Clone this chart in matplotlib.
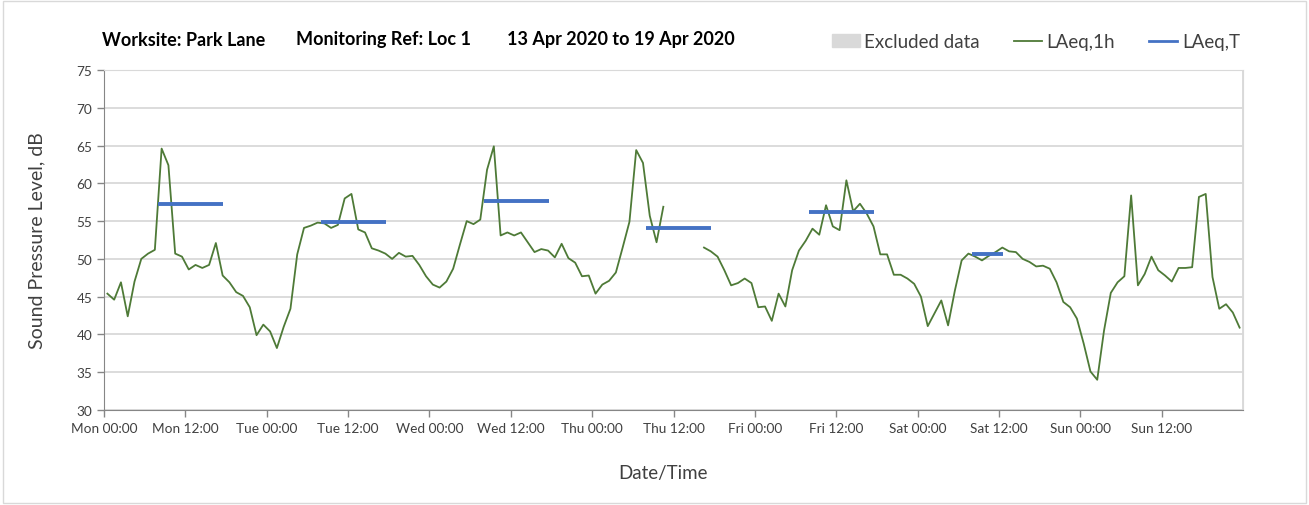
import numpy as np
import matplotlib
matplotlib.use('Agg')
from matplotlib import pyplot as plt
from matplotlib.lines import Line2D
from matplotlib.patches import Patch, Rectangle

# hourly LAeq,1h values, Mon 00:00 .. Sun 23:00 (nan = no data)
laeq_1h = [45.4, 44.6, 46.9, 42.4, 47.0, 50.0, 50.7, 51.2, 64.6, 62.4, 50.7, 50.3,
           48.6, 49.2, 48.8, 49.2, 52.1, 47.8, 46.9, 45.6, 45.1, 43.6, 39.9, 41.3,
           40.4, 38.2, 41.0, 43.4, 50.6, 54.1, 54.4, 54.8, 54.7, 54.1, 54.5, 58.0,
           58.6, 53.9, 53.5, 51.4, 51.1, 50.7, 50.0, 50.8, 50.3, 50.4, 49.2, 47.7,
           46.6, 46.2, 47.0, 48.7, 51.9, 55.0, 54.6, 55.2, 61.8, 64.9, 53.1, 53.5,
           53.1, 53.5, 52.2, 50.9, 51.3, 51.1, 50.2, 52.0, 50.1, 49.5, 47.7, 47.8,
           45.4, 46.6, 47.1, 48.2, 51.5, 54.9, 64.4, 62.7, 55.7, 52.2, 56.9, np.nan,
           np.nan, np.nan, np.nan, np.nan, 51.5, 51.0, 50.3, 48.5, 46.5, 46.8, 47.4, 46.8,
           43.6, 43.7, 41.8, 45.4, 43.7, 48.5, 51.1, 52.4, 54.0, 53.2, 57.1, 54.3,
           53.8, 60.4, 56.3, 57.3, 56.0, 54.3, 50.6, 50.6, 47.9, 47.9, 47.4, 46.7,
           45.0, 41.1, 42.8, 44.5, 41.2, 45.8, 49.8, 50.7, 50.3, 49.8, 50.4, 50.9,
           51.5, 51.0, 50.9, 50.0, 49.6, 49.0, 49.1, 48.7, 46.9, 44.3, 43.6, 42.1,
           38.8, 35.1, 34.0, 40.5, 45.5, 46.9, 47.7, 58.4, 46.5, 48.0, 50.3, 48.5,
           47.8, 47.0, 48.8, 48.8, 48.9, 58.2, 58.6, 47.6, 43.4, 44.0, 42.9, 40.9]

# LAeq,T over the working period of each day (Mon..Sat)
laeq_t = [57.3, 54.9, 57.7, 54.1, 56.2, 50.6]
period_start = [8, 8, 8, 8, 8, 8]
period_end = [17.6, 17.6, 17.6, 17.6, 17.6, 12.6]

days = ['Mon', 'Tue', 'Wed', 'Thu', 'Fri', 'Sat', 'Sun']
tick_labels = []
for d in days:
    tick_labels += [d + ' 00:00', d + ' 12:00']

plt.rcParams['font.family'] = ['Lato', 'DejaVu Sans']

fig = plt.figure(figsize=(13.09, 5.06), dpi=100)
ax = fig.add_axes([104/1309, 1-411/506, (1243-104)/1309, (411-71)/506])

hours = np.arange(len(laeq_1h)) + 0.5
ax.plot(hours, laeq_1h, color='#4e7a37', lw=1.3, label='LAeq,1h')
for i, v in enumerate(laeq_t):
    ax.hlines(v, i*24 + period_start[i], i*24 + period_end[i],
              color='#4472c4', lw=2.8)

ax.set_xlim(0, 168)
ax.set_ylim(30, 75)
ax.set_yticks(np.arange(30, 76, 5))
ax.set_xticks(np.arange(0, 168, 12))
ax.set_xticklabels(tick_labels)
ax.set_xticks(np.arange(0, 169, 24), minor=True)
ax.grid(axis='y', color='#d9d9d9', lw=1.3)
ax.grid(axis='x', which='minor', color='#d9d9d9', lw=1.3)
ax.tick_params(axis='both', which='major', labelsize=9.8, colors='#868686',
               labelcolor='#404040', length=5, width=1)
ax.tick_params(axis='x', which='minor', length=0)
for s in ['top', 'right']:
    ax.spines[s].set_color('#d9d9d9')
for s in ['left', 'bottom']:
    ax.spines[s].set_color('#868686')
ax.set_axisbelow(True)

ax.set_ylabel('Sound Pressure Level, dB', fontsize=14, color='#404040', labelpad=22)
ax.set_xlabel('Date/Time', fontsize=13.5, color='#404040')
ax.xaxis.set_label_coords(0.491, -0.158)

ty = 1 - 40/506
fig.text(102/1309, ty, 'Worksite: Park Lane', fontsize=13, fontweight='bold', va='center')
fig.text(296/1309, ty, 'Monitoring Ref: Loc 1', fontsize=13, fontweight='bold', va='center')
fig.text(507/1309, ty, '13 Apr 2020 to 19 Apr 2020', fontsize=13, fontweight='bold', va='center')

handles = [Patch(color='#d9d9d9', label='Excluded data'),
           Line2D([], [], color='#4e7a37', lw=1.3, label='LAeq,1h'),
           Line2D([], [], color='#4472c4', lw=2, label='LAeq,T')]
ax.legend(handles=handles, loc='center right', bbox_to_anchor=(1.012, 1.083), ncol=3,
          frameon=False, fontsize=13.5, handlelength=1.5, handletextpad=0.25,
          columnspacing=1.8, labelcolor='#404040')

fig.patches.append(Rectangle((0.002, 0.004), 0.996, 0.992, transform=fig.transFigure,
                             fill=False, edgecolor='#d9d9d9', lw=1))

fig.savefig('out.png', dpi=100)
